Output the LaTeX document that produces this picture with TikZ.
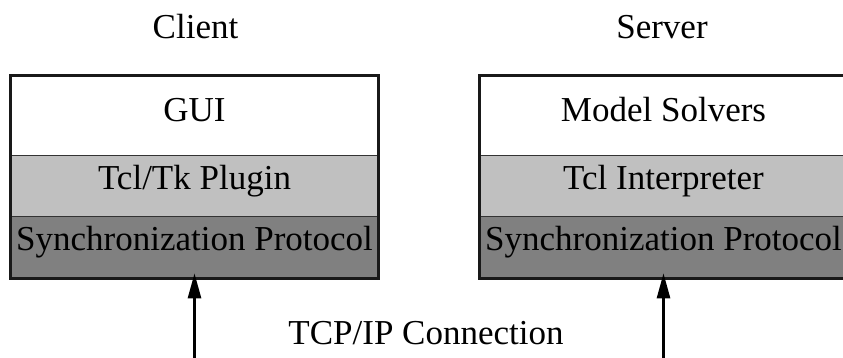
\documentclass[tikz,border=0pt]{standalone}
\usepackage{fontspec}
\setmainfont{Liberation Serif}
\usetikzlibrary{arrows.meta}
\definecolor{lightlayer}{RGB}{192,192,192}
\definecolor{darklayer}{RGB}{128,128,128}
\begin{document}
\begin{tikzpicture}[x=1pt,y=1pt,
  layer/.style={draw=black!80, line width=1pt, minimum width=368pt, inner sep=0pt, outer sep=0pt},
  toplayer/.style={layer, fill=white, minimum height=80pt},
  midlayer/.style={layer, fill=lightlayer, minimum height=61.2pt},
  botlayer/.style={layer, fill=darklayer, minimum height=61.6pt},
  frame/.style={line width=3pt, draw=black!90},
  lbl/.style={anchor=base, inner sep=0pt, font=\fontsize{35}{40}\selectfont},
  conn/.style={line width=2.6pt, shorten >=-5pt, -{Triangle[length=25pt,width=13pt]}}]
\useasboundingbox (0,0) rectangle (843,358);
% client
\node[toplayer] (cgui) at (194.5,242.5) {};
\node[midlayer] (ctcl) at (194.5,171.9) {};
\node[botlayer] (csync) at (194.5,110.5) {};
\draw[frame] (cgui.north west) rectangle (csync.south east);
% server
\node[toplayer] (sgui) at (663.5,242.5) {};
\node[midlayer] (stcl) at (663.5,171.9) {};
\node[botlayer] (ssync) at (663.5,110.5) {};
\draw[frame] (sgui.north west) rectangle (ssync.south east);
% labels
\node[lbl] (client) at (195.5,319) {Client};
\node[lbl] (server) at (662,319) {Server};
\node[lbl] (tgui) at (194.5,236.3) {GUI};
\node[lbl] (ttcl) at (194.5,168) {Tcl/Tk Plugin};
\node[lbl] (tsync) at (194.5,107) {Synchronization Protocol};
\node[lbl] (tms) at (663.5,236.3) {Model Solvers};
\node[lbl] (tti) at (663.5,168) {Tcl Interpreter};
\node[lbl] (tssync) at (663.5,107) {Synchronization Protocol};
\node[lbl] (tcp) at (426,13) {TCP/IP Connection};
% connectors
\coordinate (cbot) at (194.5,0);
\coordinate (sbot) at (663.5,0);
\draw[conn] (cbot) -- (csync.south);
\draw[conn] (sbot) -- (ssync.south);
\end{tikzpicture}
\end{document}
